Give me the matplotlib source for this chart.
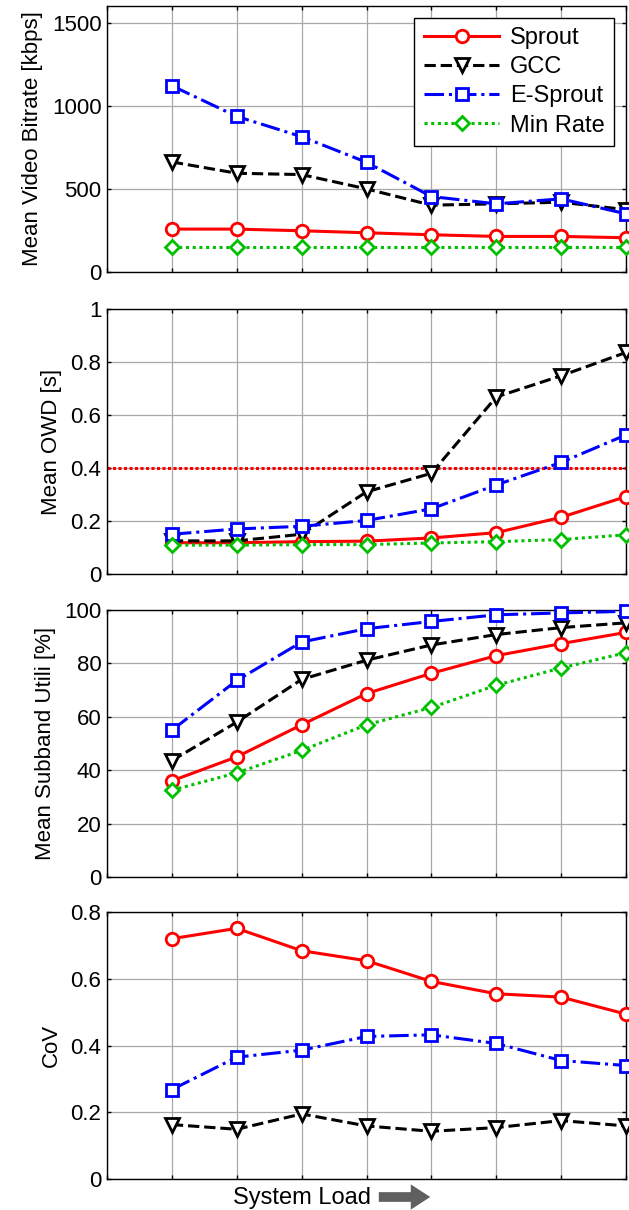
import matplotlib
matplotlib.use("Agg")
import matplotlib.pyplot as plt
import numpy as np

plt.rcParams['font.family'] = ['Liberation Sans', 'DejaVu Sans']

x = [1, 2, 3, 4, 5, 6, 7, 8]
series = ["Sprout", "GCC", "E-Sprout", "Min Rate"]

bitrate_sprout = [258, 258, 248, 236, 224, 214, 214, 206]
bitrate_gcc = [662, 594, 586, 500, 402, 410, 420, 375]
bitrate_esprout = [1120, 936, 814, 660, 454, 410, 440, 350]
bitrate_min = [150, 150, 150, 150, 150, 150, 150, 150]

owd_sprout = [0.118, 0.118, 0.122, 0.124, 0.136, 0.156, 0.214, 0.292]
owd_gcc = [0.125, 0.125, 0.150, 0.310, 0.380, 0.668, 0.748, 0.836]
owd_esprout = [0.150, 0.170, 0.180, 0.202, 0.246, 0.336, 0.421, 0.525]
owd_min = [0.109, 0.109, 0.111, 0.111, 0.117, 0.122, 0.130, 0.148]
owd_threshold = 0.4

util_sprout = [36.0, 45.0, 57.0, 68.7, 76.3, 82.9, 87.4, 91.6]
util_gcc = [43.6, 58.0, 74.0, 81.2, 86.9, 90.8, 93.4, 95.2]
util_esprout = [55.0, 73.6, 88.0, 93.0, 95.7, 98.2, 98.9, 99.5]
util_min = [32.5, 39.0, 47.4, 57.0, 63.5, 71.8, 78.3, 84.0]

cov_sprout = [0.720, 0.751, 0.684, 0.654, 0.592, 0.555, 0.545, 0.494]
cov_gcc = [0.163, 0.149, 0.195, 0.159, 0.143, 0.154, 0.175, 0.159]
cov_esprout = [0.268, 0.365, 0.386, 0.427, 0.432, 0.406, 0.355, 0.340]

ylabels = ["Mean Video Bitrate [kbps]", "Mean OWD [s]", "Mean Subband Utili [%]", "CoV"]
xlabel = "System Load"

styles = {
    "Sprout": dict(color="#ff0000", linestyle="-", marker="o"),
    "GCC": dict(color="#000000", linestyle="--", marker="v"),
    "E-Sprout": dict(color="#0000ff", linestyle="-.", marker="s"),
    "Min Rate": dict(color="#00c000", linestyle=(0, (1, 1.2)), marker="D"),
}
msizes = {"Sprout": 9, "GCC": 10.5, "E-Sprout": 8.5, "Min Rate": 7}

W, H = 629, 1210
fig = plt.figure(figsize=(W / 100, H / 100), dpi=100)

left = 107 / W
width = (626 - 107) / W
panels_px = [(6, 272), (309, 574), (610, 877), (912, 1179)]
axes = []
for top, bot in panels_px:
    ax = fig.add_axes([left, 1 - bot / H, width, (bot - top) / H])
    axes.append(ax)

def plot_series(ax, name, vals):
    st = styles[name]
    ax.plot(x, vals, color=st["color"], linestyle=st["linestyle"], linewidth=2.2,
            marker=st["marker"], markersize=msizes[name], markerfacecolor="white",
            markeredgecolor=st["color"], markeredgewidth=2.0, label=name,
            clip_on=False, zorder=3)

data = [
    {"Sprout": bitrate_sprout, "GCC": bitrate_gcc, "E-Sprout": bitrate_esprout, "Min Rate": bitrate_min},
    {"Sprout": owd_sprout, "GCC": owd_gcc, "E-Sprout": owd_esprout, "Min Rate": owd_min},
    {"Sprout": util_sprout, "GCC": util_gcc, "E-Sprout": util_esprout, "Min Rate": util_min},
    {"Sprout": cov_sprout, "GCC": cov_gcc, "E-Sprout": cov_esprout},
]
ylims = [(0, 1600), (0, 1), (0, 100), (0, 0.8)]
yticks = [[0, 500, 1000, 1500], [0, 0.2, 0.4, 0.6, 0.8, 1], [0, 20, 40, 60, 80, 100],
          [0, 0.2, 0.4, 0.6, 0.8]]
yticklabels = [["0", "500", "1000", "1500"], ["0", "0.2", "0.4", "0.6", "0.8", "1"],
               ["0", "20", "40", "60", "80", "100"], ["0", "0.2", "0.4", "0.6", "0.8"]]

for i, ax in enumerate(axes):
    if i == 1:
        ax.axhline(owd_threshold, color="#ff0000", linestyle=(0, (1, 0.8)), linewidth=2.2, zorder=2)
    for name in series:
        if name in data[i]:
            plot_series(ax, name, data[i][name])
    ax.set_xlim(0, 8)
    ax.set_ylim(*ylims[i])
    ax.set_xticks(range(0, 9))
    ax.set_xticklabels([])
    ax.set_yticks(yticks[i])
    ax.set_yticklabels(yticklabels[i])
    ax.grid(True, color="#a8a8a8", linewidth=0.9, zorder=0)
    ax.set_axisbelow(True)
    ax.tick_params(direction="in", length=3, width=1, top=True, right=True,
                   labelsize=16, pad=4)
    for sp in ax.spines.values():
        sp.set_linewidth(1.0)
        sp.set_color("black")
    ax.set_ylabel(ylabels[i], fontsize=16, labelpad=6)

leg = axes[0].legend(loc="upper right", fontsize=17, frameon=True, fancybox=False,
                     edgecolor="black", framealpha=1, handlelength=3.2,
                     borderaxespad=0.5, labelspacing=0.3, handletextpad=0.45,
                     borderpad=0.4, numpoints=1)
leg.get_frame().set_linewidth(1.0)

fig.text(302 / W, 1 - 1198 / H, xlabel, fontsize=17, ha="center", va="center")
axes[3].annotate("", xy=(433 / W, 1 - 1197 / H), xytext=(376 / W, 1 - 1197 / H),
                 xycoords="figure fraction", textcoords="figure fraction",
                 arrowprops=dict(arrowstyle="simple,head_length=1.0,head_width=1.3,tail_width=0.5",
                                 color="#606060", lw=0, mutation_scale=14))

fig.savefig("out.png", dpi=100)
